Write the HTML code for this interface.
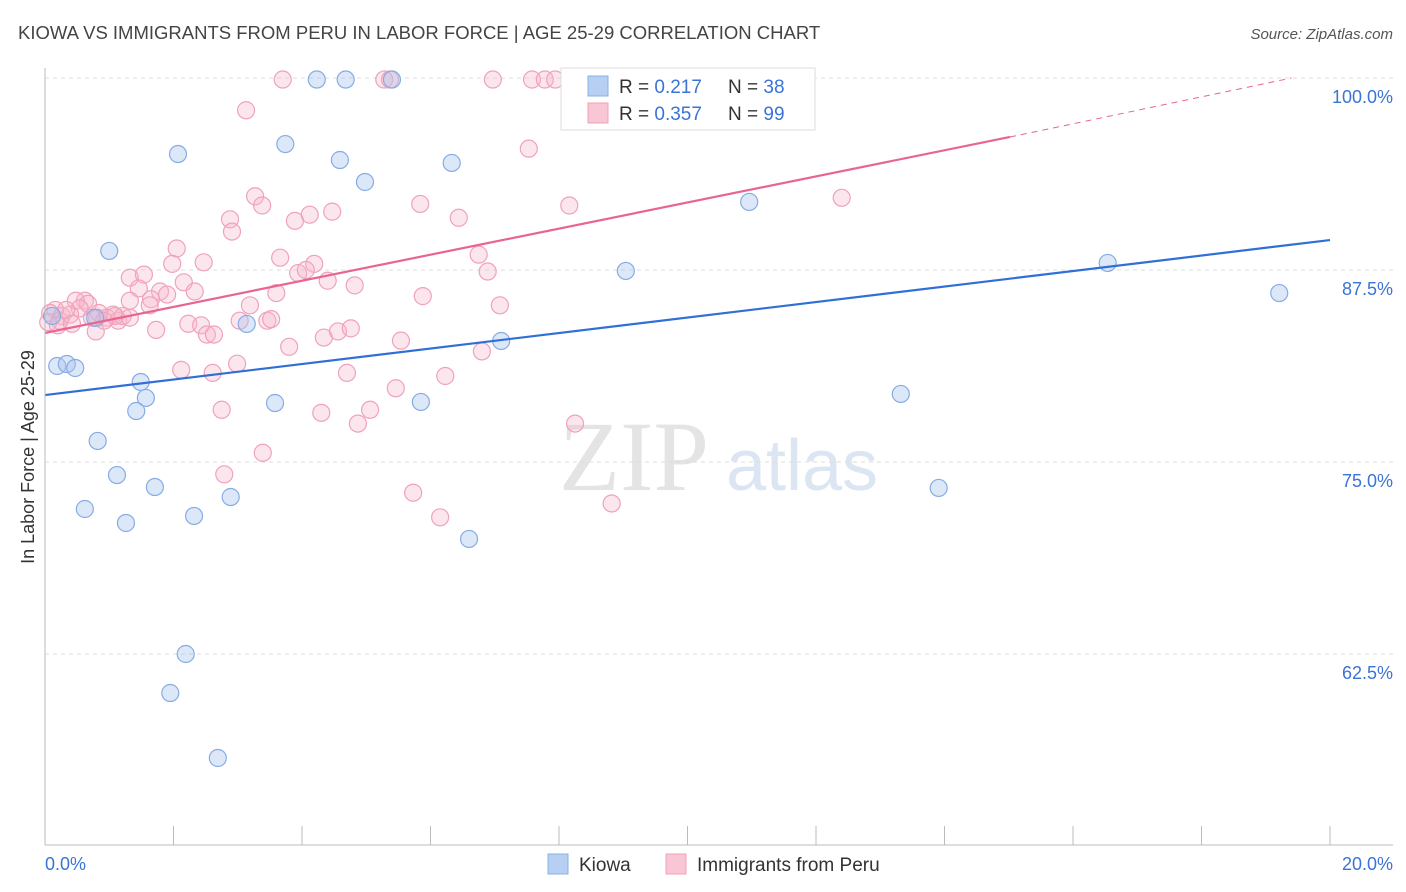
<!DOCTYPE html>
<html><head><meta charset="utf-8"><style>
body{margin:0;background:#fff;font-family:"Liberation Sans",sans-serif;}
#wrap{position:relative;width:1406px;height:892px;overflow:hidden}
</style></head><body>
<div id="wrap">
<svg id="svg" width="1406" height="892" xmlns="http://www.w3.org/2000/svg">
<text x="18" y="39" font-size="18.5" fill="#444">KIOWA VS IMMIGRANTS FROM PERU IN LABOR FORCE | AGE 25-29 CORRELATION CHART</text>
<text x="1393" y="39" font-size="15" fill="#555" font-style="italic" text-anchor="end">Source: ZipAtlas.com</text>
<text x="0" y="0" font-size="18" fill="#333" text-anchor="middle" transform="translate(34,457) rotate(-90)">In Labor Force | Age 25-29</text>
<text x="634" y="490" font-size="100" fill="#e4e4e4" font-family="Liberation Serif,serif" text-anchor="middle">ZIP</text>
<text x="802" y="490" font-size="72" fill="#dce6f3" text-anchor="middle">atlas</text>
<g id="grid"></g><g id="marks"></g><g id="lines"></g>
<line x1="45" y1="68" x2="45" y2="845" stroke="#bbb"/>
<line x1="45" y1="845" x2="1393" y2="845" stroke="#bbb"/>
<text x="45" y="870" font-size="18" fill="#3b73d6">0.0%</text>
<text x="1393" y="870" font-size="18" fill="#3b73d6" text-anchor="end">20.0%</text>
<g>
<rect x="561" y="68" width="254" height="62" fill="#fff" stroke="#ddd"/>
<rect x="588" y="76" width="20" height="20" fill="#b7cff2" stroke="#8ab0e6"/>
<rect x="588" y="103" width="20" height="20" fill="#f8c6d5" stroke="#f0a0b8"/>
<text x="619" y="93" font-size="19" fill="#333">R = <tspan fill="#3b73d6">0.217</tspan></text>
<text x="728" y="93" font-size="19" fill="#333">N = <tspan fill="#3b73d6">38</tspan></text>
<text x="619" y="120" font-size="19" fill="#333">R = <tspan fill="#3b73d6">0.357</tspan></text>
<text x="728" y="120" font-size="19" fill="#333">N = <tspan fill="#3b73d6">99</tspan></text>
</g>
<g>
<rect x="548" y="854" width="20" height="20" fill="#b7cff2" stroke="#8ab0e6"/>
<text x="579" y="871" font-size="19" fill="#333">Kiowa</text>
<rect x="666" y="854" width="20" height="20" fill="#f8c6d5" stroke="#f0a0b8"/>
<text x="697" y="871" font-size="19" fill="#333">Immigrants from Peru</text>
</g>
</svg>
</div>
<script>
const yTicks=[100,87.5,75,62.5];
const yTickLabels=["100.0%","87.5%","75.0%","62.5%"];
const blueX=[2.07,3.74,4.23,4.68,5.40,4.59,4.98,6.33,1.00,9.04,10.96,16.54,19.21,3.14,7.10,0.19,0.34,0.47,1.49,1.57,1.42,3.58,5.85,13.32,0.82,1.12,1.71,0.62,1.26,2.32,2.89,6.60,13.91,2.19,1.95,2.69,0.78,0.11];
const blueY=[95.05,95.7,99.9,99.9,99.9,94.66,93.23,94.47,88.74,87.44,91.93,87.96,86.0,83.99,82.88,81.25,81.38,81.12,80.21,79.17,78.32,78.84,78.91,79.43,76.37,74.15,73.37,71.94,71.03,71.49,72.72,69.99,73.31,62.5,59.96,55.73,84.38,84.51];
const pinkX=[3.70,5.28,5.37,6.97,7.58,7.78,7.94,3.13,7.53,3.27,3.38,2.88,2.91,3.89,4.12,4.47,5.84,6.44,8.16,12.40,2.05,1.98,2.47,3.66,4.19,3.94,4.06,4.40,4.82,6.75,6.89,1.32,1.54,1.46,2.16,2.33,1.79,1.65,1.32,3.60,5.88,7.08,3.19,0.62,0.48,0.67,0.54,0.16,0.08,0.26,0.39,0.23,0.05,0.81,0.96,1.06,1.14,1.21,0.79,1.73,2.23,2.43,2.52,2.63,3.03,3.46,3.52,4.34,4.56,4.76,5.54,3.80,6.80,2.12,2.61,2.99,4.70,5.46,6.23,2.75,4.30,5.06,4.87,8.25,3.39,2.79,5.73,6.15,8.82,1.63,1.90,1.09,0.84,0.33,0.92,0.73,0.20,0.42,1.32];
const pinkY=[99.9,99.9,99.9,99.9,99.9,99.9,99.9,97.9,95.4,92.3,91.7,90.8,90.0,90.7,91.1,91.3,91.8,90.9,91.7,92.2,88.9,87.9,88.0,88.3,87.9,87.3,87.5,86.8,86.5,88.5,87.4,87.0,87.2,86.3,86.7,86.1,86.1,85.6,85.5,86.0,85.8,85.2,85.2,85.5,85.5,85.3,85.0,84.9,84.7,84.5,84.6,84.2,84.1,84.4,84.4,84.6,84.2,84.5,83.5,83.6,84.0,83.9,83.3,83.3,84.2,84.2,84.3,83.1,83.5,83.7,82.9,82.5,82.2,81.0,80.8,81.4,80.8,79.8,80.6,78.4,78.2,78.4,77.5,77.5,75.6,74.2,73.0,71.4,72.3,85.2,85.9,84.5,84.7,84.9,84.2,84.4,83.9,84.0,84.4];
const blueTrend=[[0,79.36],[20,89.45]];
const pinkTrend=[[0,83.4],[15.02,96.16]];
const pinkTrendDash=[[15.02,96.16],[19.4,100]];
const NS="http://www.w3.org/2000/svg";
const sx=v=>45+v/20*1285;
const sy=v=>78+(100-v)*15.36;
function mk(tag,attrs,parent){const e=document.createElementNS(NS,tag);for(const k in attrs)e.setAttribute(k,attrs[k]);parent.appendChild(e);return e;}
const grid=document.getElementById('grid'),marks=document.getElementById('marks'),lines=document.getElementById('lines');
yTicks.forEach((t,i)=>{
 const l=mk('line',{x1:45,x2:1393,y1:sy(t),y2:sy(t),stroke:'#ddd','stroke-dasharray':'4,4'},grid);
 
 
 const tx=mk('text',{x:1393,y:sy(t)+25,'font-size':18,fill:'#3b73d6','text-anchor':'end'},grid);
 tx.textContent=yTickLabels[i];
 
 
});
for(let k=1;k<=10;k++){
 const l=mk('line',{x1:sx(k*2),x2:sx(k*2),y1:826,y2:845,stroke:'#bbb'},grid);
 
 
}
pinkX.forEach((x,i)=>{
 const c=mk('circle',{cx:sx(x),cy:sy(pinkY[i]),r:8.5,fill:'rgba(246,182,204,0.35)',stroke:'#f0a2bb','stroke-width':1.2},marks);
 
 
});
blueX.forEach((x,i)=>{
 const c=mk('circle',{cx:sx(x),cy:sy(blueY[i]),r:8.5,fill:'rgba(168,196,238,0.4)',stroke:'#86ace6','stroke-width':1.2},marks);
 
 
});
const bl=mk('line',{x1:sx(blueTrend[0][0]),y1:sy(blueTrend[0][1]),x2:sx(blueTrend[1][0]),y2:sy(blueTrend[1][1]),stroke:'#2f6fd6','stroke-width':2.2},lines);


const pl=mk('line',{x1:sx(pinkTrend[0][0]),y1:sy(pinkTrend[0][1]),x2:sx(pinkTrend[1][0]),y2:sy(pinkTrend[1][1]),stroke:'#e8658f','stroke-width':2.2},lines);


const pd=mk('line',{x1:sx(pinkTrendDash[0][0]),y1:sy(pinkTrendDash[0][1]),x2:sx(pinkTrendDash[1][0]),y2:sy(pinkTrendDash[1][1]),stroke:'#e8658f','stroke-width':1,'stroke-dasharray':'6,5'},lines);


</script>
</body></html>
